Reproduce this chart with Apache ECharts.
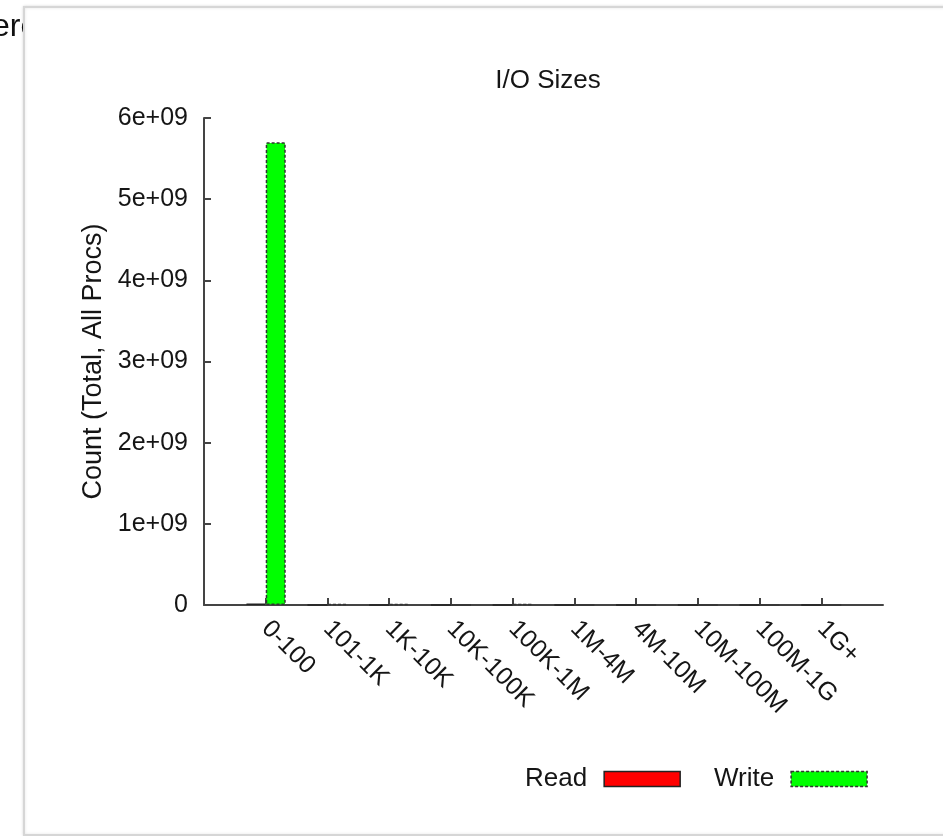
<!DOCTYPE html>
<html>
<head>
<meta charset="utf-8">
<title>I/O Sizes</title>
<script src="https://cdn.jsdelivr.net/npm/echarts@6/dist/echarts.min.js"></script>
<style>
  html, body { margin: 0; padding: 0; background: #fff; }
  #chart { width: 943px; height: 836px; }
</style>
</head>
<body>
<div id="chart"></div>
<script>
// Size buckets on the x axis
const sizeBuckets = ['0-100', '101-1K', '1K-10K', '10K-100K', '100K-1M', '1M-4M', '4M-10M', '10M-100M', '100M-1G', '1G+'];
// Total operation counts across all processes
const readCounts  = [1.8e7, 0, 0, 0, 0, 0, 0, 0, 0, 0];
const writeCounts = [5.70e9, 1.2e7, 1.2e7, 0, 1.0e7, 0, 0, 0, 0, 0];
// Y tick values
const yTicks = [0, 1e9, 2e9, 3e9, 4e9, 5e9, 6e9];

const FONT = '"Liberation Sans", Arial, Helvetica, sans-serif';
const INK = '#151515';

// Pad the category axis with an empty slot on either side
const axisCats = [''].concat(sizeBuckets, ['']);
const pad = arr => [null].concat(arr, [null]);

function sciLabel(v) {
  if (v === 0) return '0';
  return (v / 1e9) + 'e+09';
}

const readStyle  = { color: '#ff0000', borderColor: '#222', borderWidth: 1.5 };
const writeStyle = { color: '#00ff00', borderColor: '#333', borderWidth: 1.5, borderType: [3, 2] };

const chart = echarts.init(document.getElementById('chart'), null, { renderer: 'canvas' });

chart.setOption({
  backgroundColor: '#ffffff',
  animation: false,
  textStyle: { fontFamily: FONT },
  graphic: [
    {
      type: 'text', z: -20, left: -8, top: 11,
      style: { text: 'erc', font: '32px ' + FONT, fill: '#111' }
    },
    {
      type: 'rect', z: -10,
      shape: { x: 24, y: 7, width: 940, height: 828 },
      style: {
        fill: '#ffffff', stroke: '#d6d6d6', lineWidth: 2,
        shadowBlur: 3, shadowColor: 'rgba(0,0,0,0.12)'
      }
    }
  ],
  title: {
    text: 'I/O Sizes',
    left: 543, top: 63, textAlign: 'center',
    textStyle: { fontFamily: FONT, fontSize: 26, fontWeight: 'normal', color: INK }
  },
  legend: {
    left: 525, top: 766, padding: 0,
    align: 'right',
    itemWidth: 76, itemHeight: 15, itemGap: 33,
    icon: 'rect',
    data: [
      { name: 'Read', itemStyle: readStyle },
      { name: 'Write', itemStyle: writeStyle }
    ],
    textStyle: { fontFamily: FONT, fontSize: 26, color: INK, padding: [0, 12, 0, 0] }
  },
  grid: { left: 204, right: 60, top: 118, bottom: 231, containLabel: false },
  xAxis: {
    type: 'category',
    data: axisCats,
    boundaryGap: false,
    axisLine: { lineStyle: { color: '#444', width: 2 } },
    axisTick: {
      inside: true, length: 7,
      interval: (idx, val) => val !== '',
      lineStyle: { color: '#444', width: 2 }
    },
    axisLabel: {
      interval: 0, rotate: -45, margin: 20,
      fontFamily: FONT, fontSize: 25, color: INK
    },
    splitLine: { show: false }
  },
  yAxis: {
    type: 'value',
    min: yTicks[0], max: yTicks[yTicks.length - 1], interval: 1e9,
    name: 'Count (Total, All Procs)',
    nameLocation: 'middle', nameGap: 96, nameRotate: 90,
    nameTextStyle: { fontFamily: FONT, fontSize: 27, color: INK },
    axisLine: { show: true, lineStyle: { color: '#444', width: 2 } },
    axisTick: { show: true, inside: true, length: 7, lineStyle: { color: '#444', width: 2 } },
    axisLabel: {
      margin: 16, formatter: sciLabel,
      fontFamily: FONT, fontSize: 25, color: INK
    },
    splitLine: { show: false }
  },
  series: [
    {
      name: 'Read', type: 'bar',
      data: pad(readCounts),
      barWidth: 20, barGap: '0%',
      itemStyle: readStyle
    },
    {
      name: 'Write', type: 'bar',
      data: pad(writeCounts),
      barWidth: 20, barGap: '0%',
      itemStyle: writeStyle
    }
  ]
});
</script>
</body>
</html>
